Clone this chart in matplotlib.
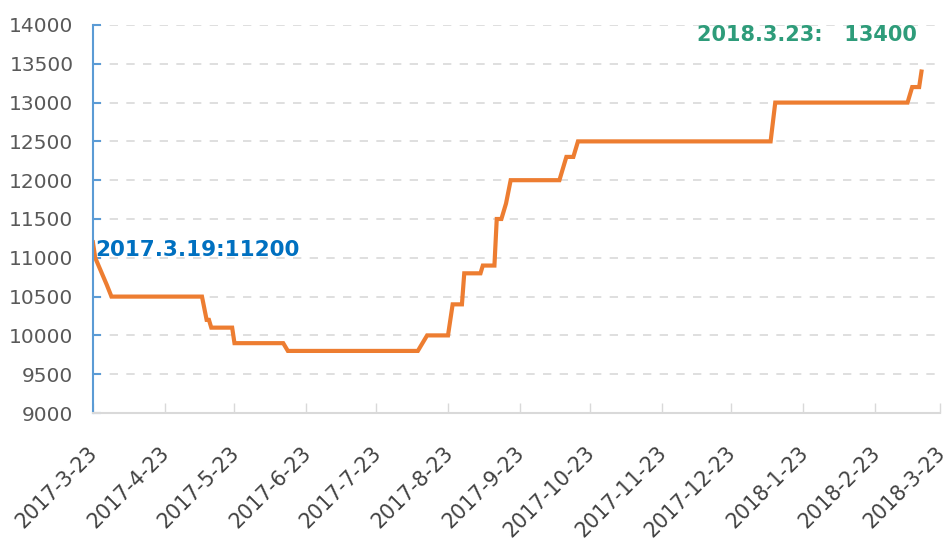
import matplotlib.pyplot as plt
import matplotlib.transforms as mtransforms
import pandas as pd

# price steps
dates = ['2017-03-23', '2017-03-24', '2017-03-29', '2017-03-31', '2017-05-09',
         '2017-05-11', '2017-05-12', '2017-05-13', '2017-05-22', '2017-05-23',
         '2017-06-13', '2017-06-15', '2017-08-10', '2017-08-14', '2017-08-23',
         '2017-08-25', '2017-08-29', '2017-08-30', '2017-09-06', '2017-09-07',
         '2017-09-12', '2017-09-13', '2017-09-15', '2017-09-17', '2017-09-19',
         '2017-10-10', '2017-10-13', '2017-10-16', '2017-10-18', '2018-01-09',
         '2018-01-11', '2018-03-09', '2018-03-11', '2018-03-14', '2018-03-15']
prices = [11200, 11000, 10650, 10500, 10500,
          10200, 10200, 10100, 10100, 9900,
          9900, 9800, 9800, 10000, 10000,
          10400, 10400, 10800, 10800, 10900,
          10900, 11500, 11500, 11700, 12000,
          12000, 12300, 12300, 12500, 12500,
          13000, 13000, 13200, 13200, 13400]
tick_dates = pd.to_datetime(['2017-03-23', '2017-04-23', '2017-05-23', '2017-06-23',
                             '2017-07-23', '2017-08-23', '2017-09-23', '2017-10-23',
                             '2017-11-23', '2017-12-23', '2018-01-23', '2018-02-23',
                             '2018-03-23'])
tick_labels = [f"{d.year}-{d.month}-{d.day}" for d in tick_dates]
y_ticks = list(range(9000, 14001, 500))

x = pd.to_datetime(dates)

fig = plt.figure(figsize=(9.48, 5.43), dpi=100)
ax = fig.add_axes([0.098, 0.2394, 0.8936, 0.7146])

ax.plot(x, prices, color='#ED7D31', lw=3, solid_joinstyle='miter')

ax.set_xlim(pd.Timestamp('2017-03-23'), pd.Timestamp('2018-03-23'))
ax.set_ylim(9000, 14000)
ax.set_yticks(y_ticks)
ax.set_xticks(tick_dates)
ax.set_xticklabels([])

# rotated date labels placed by hand so their end sits just right of each tick
lbl_trans = ax.get_xaxis_transform() + mtransforms.ScaledTranslation(
    6 / 100, -41 / 100, fig.dpi_scale_trans)
for d, t in zip(tick_dates, tick_labels):
    ax.text(d, 0, t, transform=lbl_trans, rotation=45, rotation_mode='anchor',
            ha='right', va='baseline', fontsize=14.8, color='#404040', clip_on=False)

ax.grid(axis='y', color='#D9D9D9', ls=(0, (5, 5)), lw=1.2)
ax.set_axisbelow(True)
for s in ['top', 'right']:
    ax.spines[s].set_visible(False)
ax.spines['left'].set_color('#5B9BD5')
ax.spines['left'].set_linewidth(1.5)
ax.spines['bottom'].set_color('#D9D9D9')
ax.spines['bottom'].set_linewidth(1.5)
ax.tick_params(axis='y', direction='in', length=6, width=1.5, color='#5B9BD5',
               labelsize=14.5, labelcolor='#595959', pad=14)
ax.tick_params(axis='x', direction='in', length=7, width=1, color='#D9D9D9')

ax.text(pd.Timestamp('2017-03-24'), 11100, '2017.3.19:11200', color='#0070C0',
        fontsize=15.5, fontweight='bold', va='center', ha='left')
ax.text(pd.Timestamp('2018-03-13'), 13870, '2018.3.23:   13400', color='#2E9C7A',
        fontsize=15, fontweight='bold', va='center', ha='right')

fig.savefig('out.png', dpi=100)
